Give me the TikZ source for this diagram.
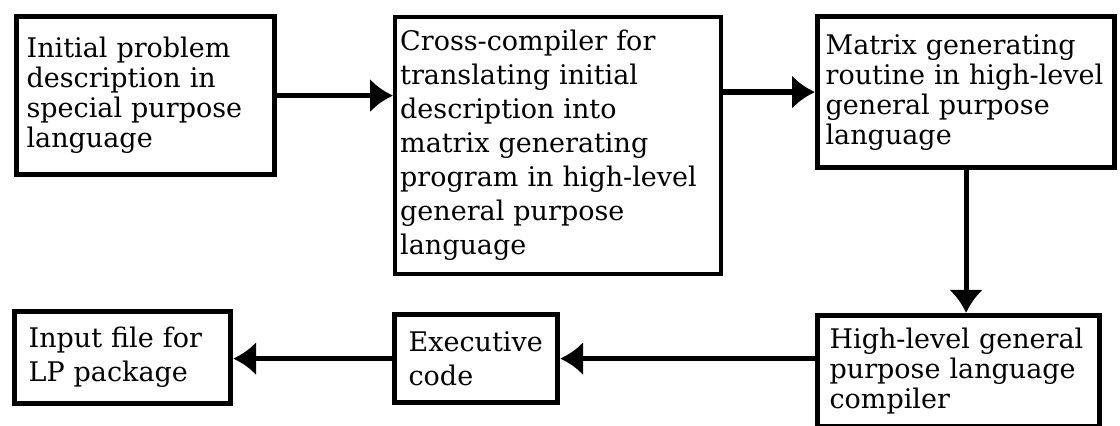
\documentclass[tikz,border=0pt]{standalone}
\usepackage{fontspec}
\setmainfont{DejaVu Serif}
\usetikzlibrary{arrows.meta}
\begin{document}
\begin{tikzpicture}[x=0.5pt, y=-0.5pt,
    box/.style={draw, line width=2.6pt, rectangle, anchor=north west, align=left,
      inner xsep=5pt, inner ysep=0pt, font=\fontsize{13.5pt}{15pt}\selectfont},
    loose/.style={font=\fontsize{13.5pt}{17pt}\selectfont},
    flow/.style={line width=2.6pt, -{Latex[length=11.5pt,width=17pt]}}]
  \useasboundingbox (0,0) rectangle (1120,426);
  % top row
  \node[box, text width=119pt, minimum height=79pt] (problem) at (14,14)
    {Initial problem\\description in\\special purpose\\language};
  \node[box, loose, line width=2.2pt, inner xsep=2.5pt, text width=158pt, minimum height=128.5pt] (cross) at (393,15)
    {Cross-compiler for\\translating initial\\description into\\matrix generating\\program in high-level\\general purpose\\language};
  \node[box, inner xsep=4pt, text width=140.5pt, minimum height=75.5pt] (matgen) at (815,14)
    {Matrix generating\\routine in high-level\\general purpose\\language};
  % bottom row
  \node[box, inner xsep=6pt, text width=129pt, minimum height=55.5pt] (hlcomp) at (815,313)
    {High-level general\\purpose language\\compiler};
  \node[box, loose, inner xsep=7pt, text width=67.5pt, minimum height=44pt] (exec) at (392,312)
    {Executive\\code};
  \node[box, loose, inner xsep=7pt, text width=94pt, minimum height=46pt] (lpfile) at (12,309)
    {Input file for\\LP package};
  % connectors
  \draw[flow] (problem.east) -- (problem.east -| cross.west);
  \draw[flow] (matgen.west -| cross.east) -- (matgen.west);
  \draw[flow] (matgen.south) -- (matgen.south |- hlcomp.north);
  \draw[flow] (hlcomp.west |- exec.east) -- (exec.east);
  \draw[flow] (exec.west) -- (exec.west -| lpfile.east);
\end{tikzpicture}
\end{document}
